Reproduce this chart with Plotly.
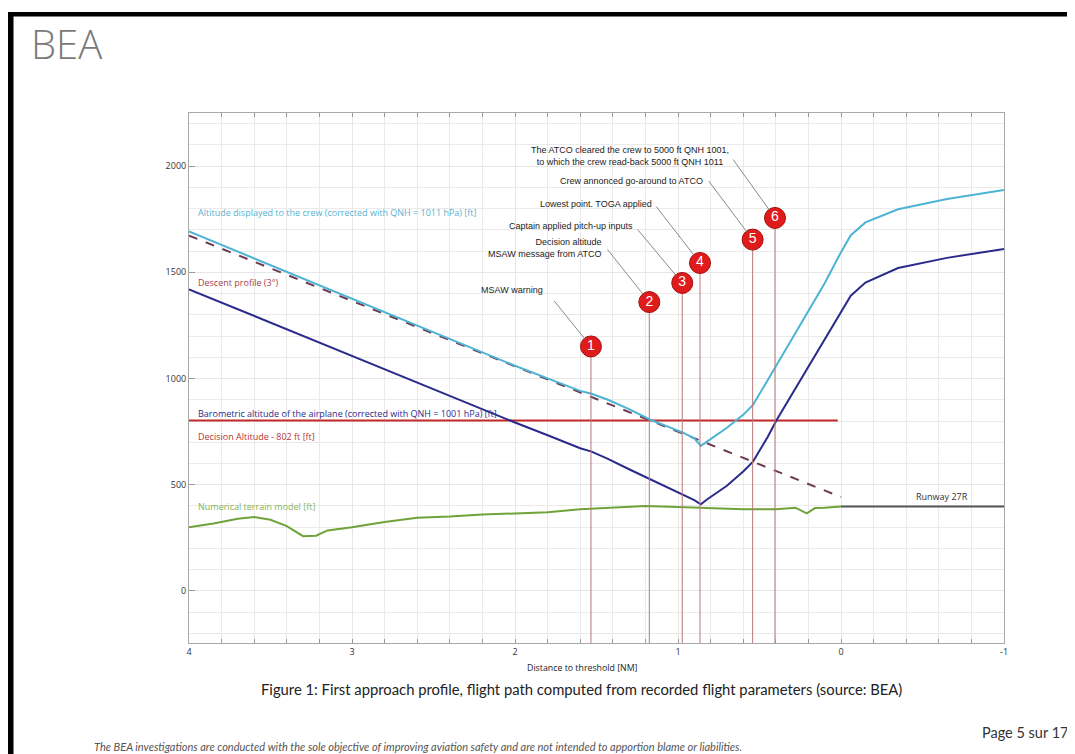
import plotly.graph_objects as go

# ---------------- data ----------------
cyan_nm = [4.0, 3.6, 3.2, 2.8, 2.4, 2.0, 1.78, 1.6, 1.53, 1.43, 1.3, 1.17, 1.05, 0.97, 0.9,
           0.86, 0.82, 0.7, 0.6, 0.54, 0.45, 0.356, 0.233, 0.1, 0.0, -0.06, -0.15, -0.35, -0.65, -1.0]
cyan_ft = [1692, 1565, 1440, 1314, 1187, 1060, 995, 942, 928, 900, 856, 806, 770, 745, 718,
           683, 704, 768, 829, 876, 992, 1113, 1277, 1449, 1595, 1675, 1735, 1797, 1845, 1888]

navy_nm = [4.0, 3.6, 3.2, 2.8, 2.4, 2.0, 1.78, 1.6, 1.53, 1.43, 1.3, 1.17, 1.05, 0.97, 0.9,
           0.86, 0.82, 0.7, 0.6, 0.54, 0.45, 0.394, 0.233, 0.1, 0.027, 0.0, -0.06, -0.15, -0.35, -0.65, -1.0]
navy_ft = [1420, 1294, 1168, 1042, 916, 793, 727, 672, 656, 622, 573, 526, 482, 452, 428,
           408, 432, 495, 562, 609, 725, 806, 1013, 1185, 1277, 1312, 1390, 1452, 1520, 1568, 1610]

descent_nm = [4.0, 0.0]
descent_ft = [1673, 442]

da_nm = [4.0, 0.02]
da_ft = [802, 802]

terrain_nm = [4.0, 3.85, 3.7, 3.6, 3.5, 3.4, 3.3, 3.22, 3.15, 3.0, 2.8, 2.6, 2.4, 2.2, 2.0, 1.8,
              1.6, 1.4, 1.2, 1.0, 0.8, 0.6, 0.4, 0.28, 0.21, 0.16, 0.1, 0.0]
terrain_ft = [300, 318, 340, 348, 335, 305, 258, 260, 285, 300, 325, 345, 350, 360, 365, 370,
              385, 393, 400, 395, 390, 385, 385, 392, 365, 390, 392, 398]

runway_nm = [0.0, -1.0]
runway_ft = [398, 398]

event_nm = [1.534, 1.176, 0.974, 0.865, 0.542, 0.405]
event_marker_ft = [1151, 1360, 1450, 1544, 1654, 1756]
event_ids = ["1", "2", "3", "4", "5", "6"]
event_texts = [
    "MSAW warning",
    "Decision altitude<br>MSAW message from ATCO",
    "Captain applied pitch-up inputs",
    "Lowest point. TOGA applied",
    "Crew annonced go-around to ATCO",
    "The ATCO cleared the crew to 5000 ft QNH 1001,<br>to which the crew read-back 5000 ft QNH 1011",
]

x_ticks = [4, 3, 2, 1, 0, -1]
y_ticks = [0, 500, 1000, 1500, 2000]
x_range = [4, -1]
y_range = [-245, 2250]

# ---------------- layout helpers ----------------
OFF = 8  # page body margin of the html page
W, H = 1075 - OFF, 754 - OFF
L, T = 189 - OFF, 113 - OFF
R = W - (1004 - OFF)
B = H - (643 - OFF)
PW, PH = W - L - R, H - T - B


def px_x(p):
    return (p - OFF - L) / PW


def px_y(p):
    return (H - B - (p - OFF)) / PH


C_CYAN = "#4db3d4"
C_NAVY = "#2a2a8c"
C_DESC = "#6e3b52"
C_DA = "#c42a2a"
C_TERR = "#6fa33a"
C_RWY = "#555555"
C_EVT = "#b87878"

fig = go.Figure()

fig.add_trace(go.Scatter(x=terrain_nm, y=terrain_ft, mode="lines",
                         line=dict(color=C_TERR, width=2)))
fig.add_trace(go.Scatter(x=runway_nm, y=runway_ft, mode="lines",
                         line=dict(color=C_RWY, width=2)))
fig.add_trace(go.Scatter(x=da_nm, y=da_ft, mode="lines",
                         line=dict(color=C_DA, width=2)))
fig.add_trace(go.Scatter(x=descent_nm, y=descent_ft, mode="lines",
                         line=dict(color=C_DESC, width=2, dash="dash")))
fig.add_trace(go.Scatter(x=navy_nm, y=navy_ft, mode="lines",
                         line=dict(color=C_NAVY, width=2)))
fig.add_trace(go.Scatter(x=cyan_nm, y=cyan_ft, mode="lines",
                         line=dict(color=C_CYAN, width=2)))

# event vertical lines
for ex, ey in zip(event_nm, event_marker_ft):
    fig.add_trace(go.Scatter(x=[ex, ex], y=[ey, y_range[0]], mode="lines",
                             line=dict(color=C_EVT, width=1)))

# event circles
fig.add_trace(go.Scatter(
    x=event_nm, y=event_marker_ft, mode="markers+text", text=event_ids,
    textposition="middle center",
    textfont=dict(family="Liberation Sans, Arial", size=14, color="white"),
    marker=dict(size=21, color="#e01b1b", line=dict(color="#a50f0f", width=1)),
))

annotations = []

# leader lines (arrow-only annotations)
tail_offsets = [(-38, -47), (-43, -54), (-46, -55), (-45, -58), (-45, -60), (-43, -60)]
for ex, ey, (ax, ay) in zip(event_nm, event_marker_ft, tail_offsets):
    annotations.append(dict(x=ex, y=ey, xref="x", yref="y", text="", showarrow=True,
                            ax=ax, ay=ay, arrowhead=0, arrowwidth=1, arrowcolor="#8a8a8a",
                            standoff=10))

# event texts (right edge / centre in pixels relative to circle centres)
circ_px = [(591, 346.7), (649.3, 301.7), (682.3, 283.3), (700, 263.3), (752.7, 240), (775, 218.3)]
text_pos = [(545, 290, "right"), (604, 248, "right"), (635, 226, "right"),
            (654, 204, "right"), (705, 181.7, "right"), (630, 156.7, "center")]
for ex, ey, (cx, cy), (tx, ty, anc), txt in zip(event_nm, event_marker_ft, circ_px, text_pos, event_texts):
    annotations.append(dict(x=ex, y=ey, xref="x", yref="y", text=txt, showarrow=False,
                            xanchor=anc, yanchor="middle", align="right" if anc == "right" else "center",
                            xshift=tx - cx, yshift=-(ty - cy),
                            font=dict(family="Liberation Sans, Arial", size=9, color="#222222")))

# series labels
lab_font = "Open Sans"
series_labels = [
    ("Altitude displayed to the crew (corrected with QNH = 1011 hPa) [ft]", 1781, "#57b3cf"),
    ("Descent profile (3°)", 1451, "#a5404d"),
    ("Barometric altitude of the airplane (corrected with QNH = 1001 hPa) [ft]", 834, C_NAVY),
    ("Decision Altitude - 802 ft [ft]", 726, "#b83434"),
    ("Numerical terrain model [ft]", 396, "#86b356"),
]
for txt, yy, col in series_labels:
    annotations.append(dict(x=3.955, y=yy, xref="x", yref="y", text=txt, showarrow=False,
                            xanchor="left", yanchor="middle",
                            font=dict(family=lab_font, size=9, color=col)))

annotations.append(dict(x=-0.62, y=443, xref="x", yref="y", text="Runway 27R", showarrow=False,
                        xanchor="center", yanchor="middle",
                        font=dict(family=lab_font, size=9, color="#333333")))

# axis title
annotations.append(dict(x=px_x(582), y=px_y(668), xref="paper", yref="paper",
                        text="Distance to threshold [NM]", showarrow=False,
                        xanchor="center", yanchor="middle",
                        font=dict(family=lab_font, size=8.8, color="#222222")))

# caption, footer, page, logo
annotations.append(dict(x=px_x(581), y=px_y(689), xref="paper", yref="paper",
                        text="Figure 1: First approach profile, flight path computed from recorded flight parameters (source: BEA)",
                        showarrow=False, xanchor="center", yanchor="middle",
                        font=dict(family="Lato", size=14.8, color="#222222")))
annotations.append(dict(x=px_x(92), y=px_y(746), xref="paper", yref="paper",
                        text="<i>The BEA investigations are conducted with the sole objective of improving aviation safety and are not intended to apportion blame or liabilities.</i>",
                        showarrow=False, xanchor="left", yanchor="middle",
                        font=dict(family="Lato", size=11, color="#555555")))
annotations.append(dict(x=px_x(1070), y=px_y(732), xref="paper", yref="paper",
                        text="Page 5 sur 17", showarrow=False, xanchor="right", yanchor="middle",
                        font=dict(family="Lato", size=14.5, color="#333333")))
annotations.append(dict(x=px_x(29), y=px_y(43), xref="paper", yref="paper",
                        text="BEA", showarrow=False, xanchor="left", yanchor="middle",
                        font=dict(family="Open Sans", size=40, color="#7a7a7a", weight=300)))

shapes = [
    dict(type="rect", xref="paper", yref="paper", x0=px_x(8), x1=px_x(1075), y0=px_y(12), y1=px_y(16.5),
         fillcolor="black", line=dict(width=0), layer="above"),
    dict(type="rect", xref="paper", yref="paper", x0=px_x(8), x1=px_x(13.5), y0=px_y(12), y1=px_y(754),
         fillcolor="black", line=dict(width=0), layer="above"),
]

axis_font = dict(family=lab_font, size=9, color="#333333")
fig.update_layout(
    width=W, height=H, autosize=False,
    margin=dict(l=L, r=R, t=T, b=B, pad=0),
    paper_bgcolor="white", plot_bgcolor="white",
    showlegend=False, hovermode=False,
    annotations=annotations, shapes=shapes,
    xaxis=dict(range=x_range, tickvals=x_ticks, ticktext=[str(v) for v in x_ticks],
               ticks="inside", ticklen=4, tickcolor="#999999",
               showline=True, linecolor="#a8a8a8", linewidth=1, mirror="ticks",
               showgrid=True, gridcolor="#e6e6e6", gridwidth=1, zeroline=False,
               tickfont=axis_font,
               minor=dict(dtick=0.2, tick0=0, ticks="inside", ticklen=4, tickcolor="#999999",
                          showgrid=True, gridcolor="#eaeaea")),
    yaxis=dict(range=y_range, tickvals=y_ticks, ticks="inside", ticklen=6, tickcolor="#999999",
               showline=True, linecolor="#a8a8a8", linewidth=1, mirror=True,
               showgrid=True, gridcolor="#e6e6e6", gridwidth=1, zeroline=False,
               tickfont=axis_font,
               minor=dict(dtick=100, tick0=0, showgrid=True, gridcolor="#eaeaea")),
)

fig.write_html("out.html")
